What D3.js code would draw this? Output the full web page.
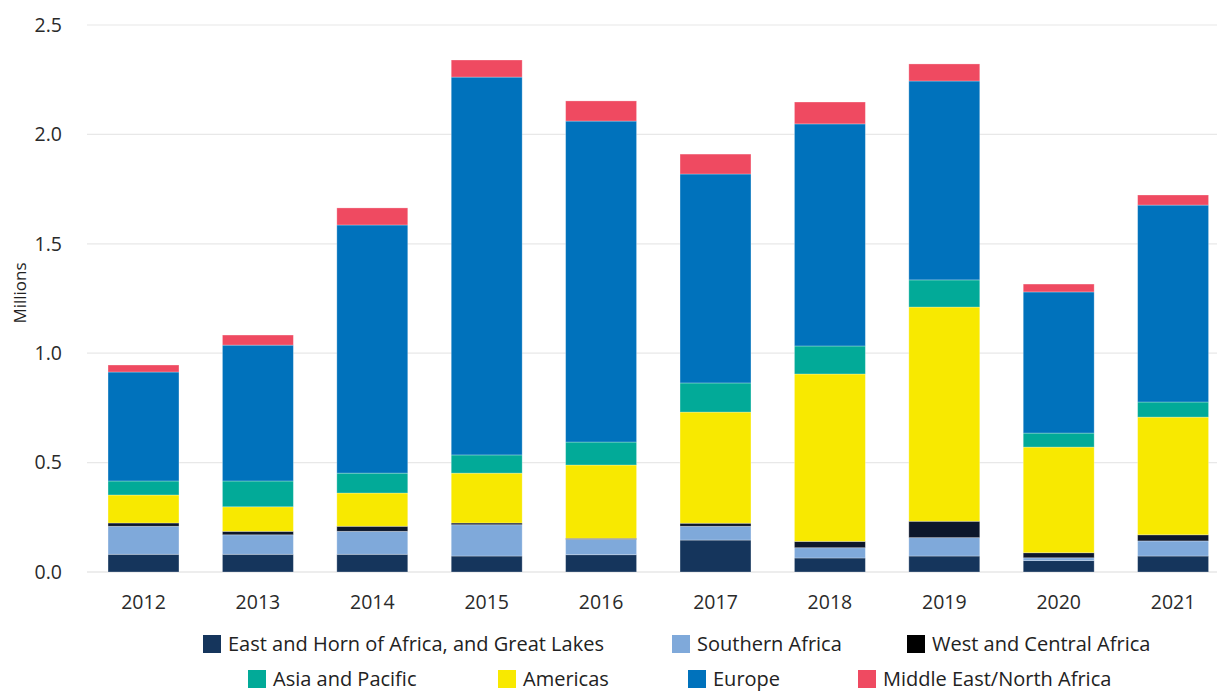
<!DOCTYPE html>
<html><head><meta charset="utf-8">
<script src="https://cdn.jsdelivr.net/npm/d3@7/dist/d3.min.js"></script>
<style>body{margin:0;background:#fff;}svg{display:block;font-family:"Open Sans",Lato,sans-serif;}</style>
</head><body><svg id="c" width="1217" height="693"></svg>
<script>
const years = ["2012","2013","2014","2015","2016","2017","2018","2019","2020","2021"];
const seriesNames = ["East and Horn of Africa, and Great Lakes","Southern Africa","West and Central Africa","Asia and Pacific","Americas","Europe","Middle East/North Africa"];
const stackOrder = ["East and Horn of Africa, and Great Lakes","Southern Africa","West and Central Africa","Americas","Asia and Pacific","Europe","Middle East/North Africa"];
const eastHorn   = [0.081,0.081,0.081,0.073,0.079,0.146,0.064,0.073,0.052,0.073];
const southern   = [0.128,0.089,0.105,0.143,0.070,0.063,0.047,0.084,0.013,0.069];
const westCentral= [0.015,0.016,0.023,0.008,0.005,0.014,0.029,0.075,0.023,0.028];
const asiaPacific= [0.064,0.118,0.091,0.083,0.105,0.133,0.128,0.124,0.064,0.069];
const americas   = [0.128,0.112,0.152,0.228,0.335,0.508,0.765,0.979,0.483,0.538];
const europe     = [0.498,0.621,1.134,1.727,1.467,0.955,1.015,0.909,0.645,0.900];
const mena       = [0.032,0.046,0.078,0.078,0.092,0.091,0.100,0.078,0.036,0.046];
const yTicks = [0,0.5,1.0,1.5,2.0,2.5];
const colors = ["#15355c","#7fa9da","#0d172b","#02aa98","#f8e900","#0072bc","#ef4a61"];
const legendColors = ["#15355c","#7fa9da","#000000","#02aa98","#f8e900","#0072bc","#ef4a61"];

const seriesVals = [eastHorn,southern,westCentral,asiaPacific,americas,europe,mena];
const table = years.map((y,i)=>{const o={year:y}; seriesNames.forEach((k,j)=>o[k]=seriesVals[j][i]); return o;});
const stack = d3.stack().keys(stackOrder)(table);
const colorOf = k => colors[seriesNames.indexOf(k)];

const svg = d3.select("#c");
const x = d3.scaleBand().domain(years).range([86.3,1230.3]).paddingInner(0.38).paddingOuter(0.19);
const y = d3.scaleLinear().domain([0,2.5]).range([572,25]);

svg.append("g").selectAll("line").data(yTicks).join("line")
  .attr("x1",87).attr("x2",1217).attr("y1",d=>y(d)).attr("y2",d=>y(d))
  .attr("stroke",d=>d===0?"#dcdcdc":"#e8e8e8").attr("stroke-width",1.2);

svg.append("g").selectAll("text").data(yTicks).join("text")
  .attr("x",62).attr("y",d=>y(d)).attr("dy","0.35em").attr("text-anchor","end")
  .attr("font-size",19.5).attr("fill","#2a2a2a").text(d=>d.toFixed(1));

svg.append("text").attr("transform","translate(26,293) rotate(-90)")
  .attr("text-anchor","middle").attr("font-size",17).attr("fill","#222").text("Millions");

svg.append("g").selectAll("g").data(stack).join("g")
  .attr("fill",d=>colorOf(d.key))
  .selectAll("rect").data(d=>d).join("rect")
  .attr("x",d=>x(d.data.year)).attr("width",x.bandwidth())
  .attr("y",d=>y(d[1])).attr("height",d=>y(d[0])-y(d[1]))
  .attr("stroke","rgba(255,255,255,0.35)").attr("stroke-width",0.8);

svg.append("g").selectAll("text").data(years).join("text")
  .attr("x",d=>x(d)+x.bandwidth()/2).attr("y",602).attr("dy","0.35em")
  .attr("text-anchor","middle").attr("font-size",19.5).attr("fill","#2a2a2a").text(d=>d);

const legendPos = [[203,644],[672,644],[907,644],[248,679],[498,679],[688,679],[858,679]];
const lg = svg.append("g").selectAll("g").data(seriesNames).join("g")
  .attr("transform",(d,i)=>`translate(${legendPos[i][0]},${legendPos[i][1]})`);
lg.append("rect").attr("x",0).attr("y",-9).attr("width",18).attr("height",18).attr("fill",(d,i)=>legendColors[i]);
lg.append("text").attr("x",25).attr("dy","0.35em").attr("font-size",20).attr("fill","#222").text(d=>d);
</script></body></html>
